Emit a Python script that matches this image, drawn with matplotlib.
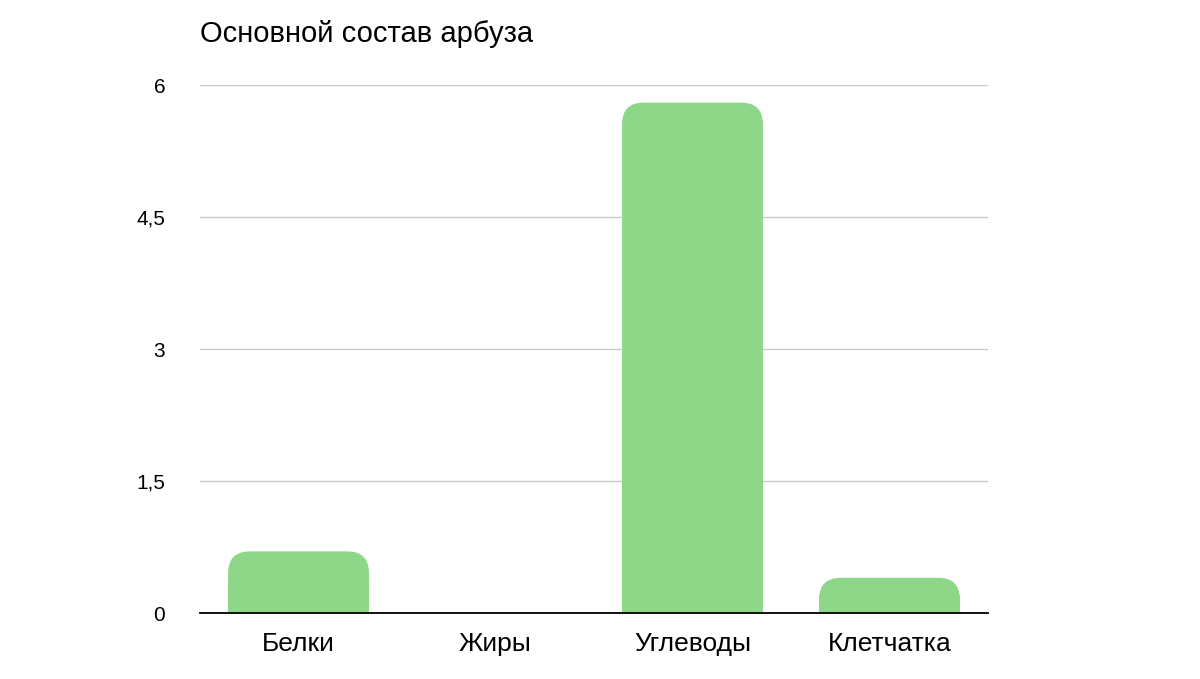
import matplotlib
matplotlib.use("Agg")
import matplotlib.pyplot as plt
from matplotlib.patches import FancyBboxPatch, Rectangle

categories = ["Белки", "Жиры", "Углеводы", "Клетчатка"]
values = [0.7, 0.0, 5.8, 0.4]
yticks = [0, 1.5, 3, 4.5, 6]
yticklabels = ["0", "1,5", "3", "4,5", "6"]

plt.rcParams['font.family'] = ['Liberation Sans', 'DejaVu Sans']
fig = plt.figure(figsize=(12, 6.79), dpi=100)
ax = fig.add_axes([0.1667, 0.0972, 0.8233 - 0.1667, 0.8748 - 0.0972])
ax.set_xlim(-0.5, 3.5)
ax.set_ylim(0, 6)
color = "#8ed688"
w = 0.715
r = 0.11
aspect = (6 / 528) / (4 / 788)
for i, v in enumerate(values):
    if v <= 0:
        continue
    ax.add_patch(FancyBboxPatch((i - w / 2, 0), w, v,
                                boxstyle=f"round,pad=0,rounding_size={r}",
                                mutation_aspect=aspect, fc=color, ec="none", zorder=3))
    ax.add_patch(Rectangle((i - w / 2, 0), w, v / 2, fc=color, ec="none", zorder=3))

ax.set_yticks(yticks)
ax.set_yticklabels(yticklabels, fontsize=15)
ax.set_xticks(range(len(categories)))
ax.set_xticklabels(categories, fontsize=19)
ax.grid(axis='y', color='#c8c8c8', lw=1, zorder=0)
for s in ['top', 'right', 'left']:
    ax.spines[s].set_visible(False)
ax.spines['bottom'].set_color('black')
ax.spines['bottom'].set_linewidth(1.3)
ax.spines['bottom'].set_zorder(4)
ax.tick_params(axis='both', length=0)
ax.tick_params(axis='y', pad=25)
ax.tick_params(axis='x', pad=14)
fig.text(0.1667, 0.95, "Основной состав арбуза", fontsize=21, ha='left', va='center')
fig.savefig("out.png", dpi=100)
